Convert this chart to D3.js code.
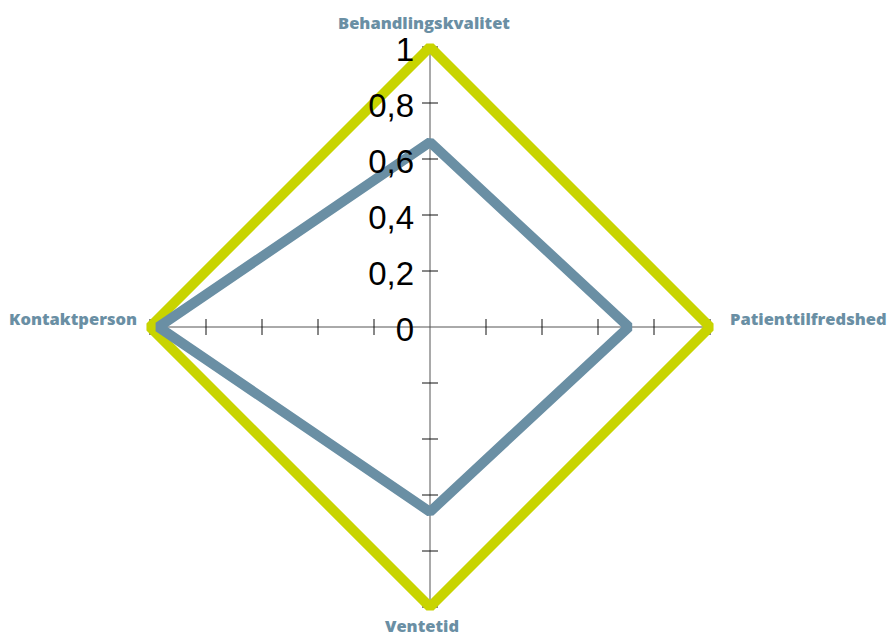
<!DOCTYPE html>
<html>
<head>
<meta charset="utf-8">
<script src="https://cdn.jsdelivr.net/npm/d3@7"></script>
<style>
  body { margin: 0; background: #fff; }
  svg { display: block; }
  .axis-label { font-family: "Open Sans", Lato, sans-serif; font-weight: 800; fill: #6a8fa4; }
  .tick-label { font-family: "Liberation Sans", Arial, sans-serif; fill: #000; }
</style>
</head>
<body>
<svg id="chart" width="889" height="635"></svg>
<script>
// categories, clockwise starting at the top
var categories = ["Behandlingskvalitet", "Patienttilfredshed", "Ventetid", "Kontaktperson"];
var tickValues = [0, 0.2, 0.4, 0.6, 0.8, 1];
var tickLabels = ["0", "0,2", "0,4", "0,6", "0,8", "1"];

// series values
var seriesGreen = [1, 1, 1, 1];
var seriesBlue = [0.66, 0.71, 0.66, 0.97];

var svg = d3.select("#chart");
var cx = 430, cy = 327;

var r = d3.scaleLinear()
    .domain([0, 1])
    .range([0, 280]);

var angle = d3.scalePoint()
    .domain(categories)
    .range([0, 2 * Math.PI * (categories.length - 1) / categories.length]);

var g = svg.append("g")
    .attr("transform", "translate(" + cx + "," + cy + ")");

  // axes: one line per category, with crossing ticks
function pt(cat, v) {
  var a = angle(cat);
  return [Math.sin(a) * r(v), -Math.cos(a) * r(v)];
}

var axes = g.append("g").attr("class", "axes");
categories.forEach(function(cat) {
  var end = pt(cat, 1);
  axes.append("line")
      .attr("x1", 0).attr("y1", 0)
      .attr("x2", end[0]).attr("y2", end[1])
      .attr("stroke", "#555")
      .attr("stroke-width", 1);

  var a = angle(cat);
  var px = Math.cos(a), py = Math.sin(a); // perpendicular direction
  tickValues.forEach(function(v) {
    if (v === 0) return;
    var p = pt(cat, v);
    axes.append("line")
        .attr("x1", p[0] - px * 8).attr("y1", p[1] - py * 8)
        .attr("x2", p[0] + px * 8).attr("y2", p[1] + py * 8)
        .attr("stroke", "#111")
        .attr("stroke-width", 1);
  });
});

  // series polygons
var radial = d3.lineRadial()
    .angle(function(d, i) { return angle(categories[i]); })
    .radius(function(d) { return r(d); })
    .curve(d3.curveLinearClosed);

g.append("path")
    .datum(seriesGreen)
    .attr("d", radial)
    .attr("fill", "none")
    .attr("stroke", "#c8d400")
    .attr("stroke-width", 10)
    .attr("stroke-linejoin", "bevel");

g.append("path")
    .datum(seriesBlue)
    .attr("d", radial)
    .attr("fill", "none")
    .attr("stroke", "#6a8fa4")
    .attr("stroke-width", 10)
    .attr("stroke-linejoin", "bevel");

  // value labels on the top axis only
g.selectAll("text.tick-label")
    .data(tickValues)
  .enter().append("text")
    .attr("class", "tick-label")
    .attr("x", -16)
    .attr("y", function(d) { return -r(d) + 14; })
    .attr("text-anchor", "end")
    .style("font-size", "33px")
    .text(function(d, i) { return tickLabels[i]; });

  // category labels
var labelPos = [
  {x: -6, y: -r(1) - 18, anchor: "middle"},
  {x: r(1) + 20, y: -2, anchor: "start"},
  {x: -8, y: r(1) + 25, anchor: "middle"},
  {x: -r(1) - 13, y: -2, anchor: "end"}
];

g.selectAll("text.axis-label")
    .data(categories)
  .enter().append("text")
    .attr("class", "axis-label")
    .attr("x", function(d, i) { return labelPos[i].x; })
    .attr("y", function(d, i) { return labelPos[i].y; })
    .attr("text-anchor", function(d, i) { return labelPos[i].anchor; })
    .style("font-size", "16.5px")
    .text(function(d) { return d; });
</script>
</body>
</html>
